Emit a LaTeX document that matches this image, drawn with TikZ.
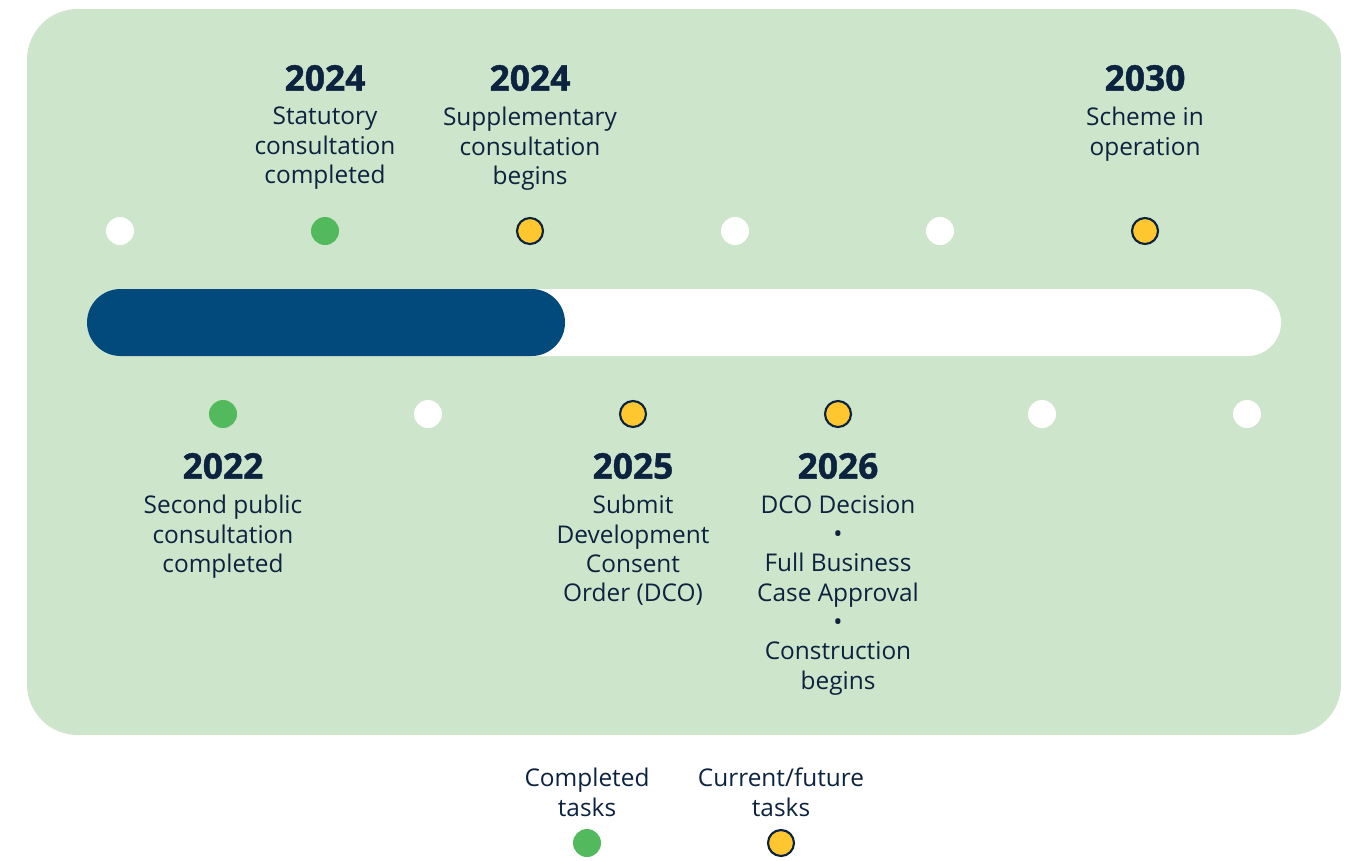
\documentclass[tikz,border=0pt]{standalone}
\usepackage{fontspec}
\setmainfont{Open Sans}
\newfontfamily\yearfont[BoldFeatures={FakeBold=1.2}]{Open Sans}
\usepackage{tikz}
\usetikzlibrary{positioning}
\definecolor{bggreen}{HTML}{CDE5CA}
\definecolor{dotgreen}{HTML}{52BA5C}
\definecolor{dotyellow}{HTML}{FEC72F}
\definecolor{barblue}{HTML}{02497C}
\definecolor{navy}{HTML}{0C2340}
\tikzset{
  dot/.style={circle, minimum size=28*0.75pt, inner sep=0pt},
  todo/.style={dot, fill=white},
  done/.style={dot, fill=dotgreen},
  next/.style={dot, fill=dotyellow, draw=navy, line width=1.6pt, minimum size=26*0.75pt},
  year/.style={font=\yearfont\fontsize{26.5}{28}\selectfont\bfseries, text=navy, inner sep=0pt},
  label/.style={font=\fontsize{18.3}{22}\selectfont, text=navy, align=center, inner sep=0pt, anchor=north}
}
\begin{document}
\begin{tikzpicture}[x=0.75pt,y=-0.75pt]
                \useasboundingbox (0,0) rectangle (1351,860);
                \fill [bggreen, rounded corners=38pt] (27,9) rectangle (1341,735);
                % progress bar
                \fill [white, rounded corners=25.1pt] (87,289) rectangle (1281,356);
                \fill [barblue, rounded corners=25.1pt] (87,289) rectangle (565,356);
                % top row
                \node [todo] (t1) at (120,231) {};
                \node [done] (t2) at (325,231) {};
                \node [next] (t3) at (530,231) {};
                \node [todo] (t4) at (735,231) {};
                \node [todo] (t5) at (940,231) {};
                \node [next] (t6) at (1145,231) {};
                % bottom row
                \node [done] (b1) at (223,414) {};
                \node [todo] (b2) at (428,414) {};
                \node [next] (b3) at (633,414) {};
                \node [next] (b4) at (838,414) {};
                \node [todo] (b5) at (1042,414) {};
                \node [todo] (b6) at (1247,414) {};
                % milestones above the bar
                \node [year] (y2) at (325,78) {2024};
                \node [label, below=11.8pt of y2] (l2) {Statutory\\consultation\\completed};
                \node [year] (y3) at (530,78) {2024};
                \node [label, below=11.8pt of y3] (l3) {Supplementary\\consultation\\begins};
                \node [year] (y6) at (1145,78) {2030};
                \node [label, below=11.8pt of y6] (l6) {Scheme in\\operation};
                % milestones below the bar
                \node [year] (y1) at (223,466) {2022};
                \node [label, below=11.8pt of y1] (l1) {Second public\\consultation\\completed};
                \node [year] (y4) at (633,466) {2025};
                \node [label, below=11.8pt of y4] (l4) {Submit\\Development\\Consent\\Order (DCO)};
                \node [year] (y5) at (838,466) {2026};
                \node [label, below=11.8pt of y5] (l5) {DCO Decision\\•\\Full Business\\Case Approval\\•\\Construction\\begins};
                % legend
                \node [label] (kdone) at (587,768) {Completed\\tasks};
                \node [done] (kd) at (587,843) {};
                \node [label] (knext) at (781,768) {Current/future\\tasks};
                \node [next] (kn) at (781,843) {};
            \end{tikzpicture}
\end{document}
